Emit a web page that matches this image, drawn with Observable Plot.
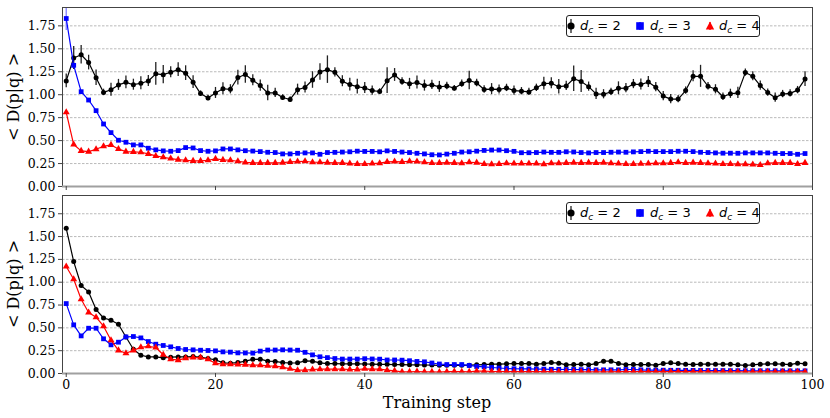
<!DOCTYPE html>
<html>
<head>
<meta charset="utf-8">
<script src="https://cdn.jsdelivr.net/npm/d3@7"></script>
<script src="https://cdn.jsdelivr.net/npm/@observablehq/plot@0.6"></script>
<style>
  body { margin: 0; background: #fff; }
  #wrap { position: relative; width: 830px; height: 418px; background: #fff; overflow: hidden; }
  .panel { position: absolute; left: 0; overflow: visible; }
  .ylab { position: absolute; font-family: "DejaVu Serif", serif; font-size: 16px; white-space: nowrap; transform: translate(-50%, -50%) rotate(-90deg); color: #000; }
  .xlab { position: absolute; font-family: "DejaVu Serif", serif; font-size: 16px; white-space: nowrap; transform: translateX(-50%); color: #000; }
  .legend { position: absolute; width: 192px; height: 20px; border: 1px solid #222; border-radius: 3px; background: #fff; font-family: "DejaVu Sans", sans-serif; font-size: 13px; color: #000; }
  .legend .mk { position: absolute; top: 2px; }
  .legend .lt { position: absolute; top: 1px; line-height: 18px; white-space: nowrap; }
  .legend i { font-style: italic; }
  .legend sub { font-size: 9px; vertical-align: -3px; font-style: italic; }
</style>
</head>
<body>
<div id="wrap"></div>
<script>
const steps = d3.range(0, 100);
const xTicks = [0, 20, 40, 60, 80, 100];
const yTicks = [0, 0.25, 0.5, 0.75, 1.0, 1.25, 1.5, 1.75];
const legendLabels = ["2", "3", "4"];

const topBlack = [1.15,1.40,1.435,1.35,1.185,1.025,1.054,1.107,1.135,1.109,1.125,1.149,1.227,1.218,1.245,1.273,1.235,1.137,1.012,0.964,1.019,1.065,1.059,1.187,1.22,
1.158,1.099,1.019,1.019,0.97,0.948,1.055,1.078,1.16,1.248,1.273,1.244,1.147,1.11,1.088,1.073,1.045,1.035,1.153,1.215,1.144,1.118,1.133,1.099,1.107,
1.085,1.095,1.071,1.12,1.155,1.128,1.057,1.061,1.057,1.074,1.045,1.038,1.03,1.075,1.12,1.125,1.087,1.096,1.174,1.145,1.088,1.009,1.005,1.031,1.07,
1.071,1.116,1.11,1.139,1.082,0.985,0.952,0.952,1.045,1.2,1.2,1.092,1.059,0.978,1.01,1.02,1.241,1.201,1.099,1.023,0.968,1.007,1.014,1.05,1.17];
const topBlackErr = [0.075,0.125,0.10,0.08,0.085,0.035,0.07,0.06,0.07,0.06,0.07,0.06,0.125,0.10,0.06,0.075,0.08,0.07,0.03,0.03,0.06,0.065,0.05,0.08,0.095,
0.06,0.06,0.085,0.05,0.03,0.03,0.06,0.06,0.09,0.09,0.15,0.05,0.06,0.07,0.08,0.06,0.05,0.03,0.14,0.07,0.04,0.06,0.07,0.06,0.05,
0.06,0.04,0.03,0.04,0.10,0.04,0.04,0.06,0.05,0.04,0.05,0.04,0.04,0.04,0.07,0.06,0.08,0.05,0.14,0.12,0.05,0.06,0.05,0.04,0.07,
0.05,0.05,0.06,0.06,0.05,0.05,0.05,0.04,0.04,0.06,0.12,0.04,0.05,0.04,0.05,0.06,0.04,0.05,0.05,0.04,0.05,0.04,0.04,0.04,0.08];
const topBlue = [1.83,1.32,1.033,0.942,0.826,0.681,0.587,0.504,0.482,0.453,0.453,0.417,0.399,0.388,0.384,0.391,0.424,0.42,0.391,0.384,0.388,0.409,0.409,0.399,0.39,
0.386,0.38,0.373,0.37,0.355,0.355,0.362,0.366,0.366,0.351,0.37,0.372,0.375,0.378,0.385,0.382,0.382,0.378,0.388,0.382,0.375,0.37,0.362,0.355,0.346,
0.344,0.353,0.362,0.375,0.378,0.385,0.393,0.397,0.397,0.39,0.383,0.368,0.368,0.37,0.375,0.372,0.372,0.378,0.376,0.37,0.366,0.37,0.37,0.373,0.375,
0.373,0.377,0.38,0.384,0.38,0.38,0.38,0.384,0.384,0.38,0.373,0.37,0.366,0.363,0.363,0.362,0.366,0.366,0.366,0.366,0.362,0.359,0.359,0.351,0.359];
const topBlueErr = [0.13];
const topRed = [0.808,0.457,0.388,0.38,0.406,0.438,0.453,0.409,0.38,0.377,0.373,0.355,0.333,0.319,0.304,0.293,0.286,0.279,0.279,0.286,0.301,0.29,0.286,0.275,0.262,
0.257,0.257,0.257,0.257,0.26,0.268,0.272,0.275,0.264,0.264,0.26,0.257,0.257,0.25,0.246,0.246,0.25,0.254,0.268,0.272,0.268,0.275,0.272,0.264,0.256,
0.257,0.26,0.257,0.254,0.264,0.26,0.246,0.243,0.246,0.254,0.25,0.25,0.25,0.25,0.243,0.254,0.254,0.257,0.26,0.257,0.26,0.257,0.26,0.254,0.25,
0.245,0.245,0.248,0.25,0.254,0.254,0.257,0.264,0.257,0.26,0.257,0.254,0.25,0.246,0.246,0.243,0.243,0.239,0.235,0.254,0.257,0.257,0.257,0.246,0.257];

const botBlack = [1.591,1.226,0.964,0.894,0.70,0.608,0.584,0.54,0.40,0.266,0.20,0.182,0.182,0.172,0.179,0.182,0.182,0.186,0.179,0.164,0.15,0.117,0.113,0.12,0.135,
0.155,0.157,0.135,0.132,0.12,0.115,0.117,0.139,0.135,0.117,0.109,0.109,0.106,0.106,0.106,0.104,0.102,0.1,0.1,0.098,0.098,0.095,0.095,0.093,0.092,
0.09,0.09,0.09,0.09,0.091,0.095,0.098,0.102,0.102,0.106,0.109,0.109,0.109,0.102,0.109,0.12,0.113,0.095,0.098,0.102,0.095,0.109,0.135,0.135,0.109,0.097,
0.098,0.098,0.098,0.091,0.109,0.117,0.109,0.102,0.098,0.102,0.102,0.102,0.102,0.102,0.095,0.088,0.095,0.102,0.106,0.106,0.102,0.098,0.113,0.106];
const botBlue = [0.766,0.533,0.412,0.496,0.496,0.38,0.314,0.343,0.401,0.405,0.39,0.35,0.321,0.307,0.292,0.274,0.263,0.259,0.255,0.252,0.248,0.237,0.234,0.226,0.225,
0.223,0.245,0.257,0.257,0.259,0.257,0.255,0.232,0.204,0.183,0.174,0.164,0.158,0.158,0.158,0.162,0.159,0.157,0.148,0.148,0.146,0.14,0.132,0.128,0.115,
0.104,0.098,0.098,0.098,0.088,0.077,0.073,0.066,0.06,0.055,0.052,0.05,0.05,0.048,0.048,0.046,0.046,0.044,0.044,0.042,0.042,0.04,0.04,0.04,0.04,0.044,
0.044,0.04,0.038,0.036,0.036,0.035,0.035,0.034,0.034,0.033,0.033,0.032,0.032,0.031,0.031,0.03,0.03,0.03,0.03,0.03,0.029,0.029,0.029,0.029];
const botRed = [1.172,1.033,0.814,0.668,0.617,0.518,0.365,0.253,0.222,0.253,0.287,0.298,0.285,0.205,0.157,0.146,0.168,0.175,0.175,0.155,0.112,0.102,0.102,0.099,0.097,
0.091,0.091,0.084,0.08,0.069,0.051,0.036,0.036,0.044,0.047,0.047,0.047,0.047,0.044,0.044,0.051,0.047,0.047,0.036,0.029,0.018,0.018,0.022,0.018,0.018,
0.015,0.02,0.022,0.02,0.018,0.025,0.025,0.022,0.022,0.022,0.02,0.02,0.02,0.02,0.02,0.02,0.018,0.018,0.018,0.018,0.018,0.018,0.018,0.018,0.02,0.02,
0.02,0.02,0.02,0.02,0.02,0.02,0.02,0.02,0.02,0.018,0.018,0.018,0.018,0.018,0.018,0.018,0.018,0.018,0.018,0.018,0.018,0.018,0.018,0.018];

const colors = ["#000000", "#0000ff", "#ff0000"];
const symbols = ["circle", "square", "triangle"];
const radii = [2.5, 2.7, 2.6];

function rows(vals, errs) {
  return steps.map((s, i) => ({ s, v: vals[i], e: errs && errs[i] != null ? errs[i] : 0 }));
}

function seriesMarks(vals, errs, k) {
  const data = rows(vals, errs);
  const marks = [];
  if (errs) {
    marks.push(Plot.ruleX(data.filter(d => d.e > 0), {
      x: "s", y1: d => d.v - d.e, y2: d => d.v + d.e,
      stroke: k === 0 ? "#222" : "#8080ff", strokeWidth: 1.3, clip: true
    }));
  }
  marks.push(Plot.line(data, { x: "s", y: "v", stroke: colors[k], strokeWidth: 1.2, clip: true }));
  marks.push(Plot.dot(data, { x: "s", y: "v", symbol: symbols[k], r: radii[k], fill: colors[k], stroke: "none", clip: true }));
  return marks;
}

function panel(series, opts) {
  return Plot.plot({
    width: 830,
    height: opts.height,
    marginLeft: 62,
    marginRight: 18,
    marginTop: opts.marginTop,
    marginBottom: opts.marginBottom,
    style: { fontFamily: "DejaVu Serif, serif", fontSize: "12.5px", color: "#000", background: "transparent", overflow: "visible" },
    x: { domain: [-0.5, 100] },
    y: { domain: [0, 1.95] },
    marks: [
      Plot.gridY(yTicks.filter(t => t > 0), { stroke: "#a8a8a8", strokeOpacity: 1, strokeWidth: 0.8, strokeDasharray: "2.5,1.5" }),
      ...series.flatMap((sr, k) => seriesMarks(sr.vals, sr.errs, k)),
      Plot.frame({ stroke: "#444", strokeWidth: 1 }),
      Plot.ruleY([0], { stroke: "#a0a0a0", strokeWidth: 2 }),
      Plot.axisY({ ticks: yTicks, tickSize: 4, tickPadding: 3, tickFormat: d3.format(".2f"), label: null, stroke: "#444" }),
      opts.xLabels
        ? Plot.axisX({ ticks: xTicks, tickSize: 4, tickPadding: 3, tickFormat: d => String(d), label: null, stroke: "#444" })
        : Plot.axisX({ ticks: xTicks, tickSize: 4, tickFormat: () => "", label: null, stroke: "#444" })
    ]
  });
}

const wrap = document.getElementById("wrap");

const botChart = panel([
  { vals: botBlack },
  { vals: botBlue },
  { vals: botRed }
], { height: 228, marginTop: 5, marginBottom: 45, xLabels: true });
botChart.classList.add("panel");
botChart.style.top = "190px";
wrap.appendChild(botChart);

const topChart = panel([
  { vals: topBlack, errs: topBlackErr },
  { vals: topBlue, errs: topBlueErr },
  { vals: topRed }
], { height: 190, marginTop: 7, marginBottom: 4, xLabels: false });
topChart.classList.add("panel");
topChart.style.top = "0px";
wrap.appendChild(topChart);

function addYLabel(cy) {
  const d = document.createElement("div");
  d.className = "ylab";
  d.style.left = "13px";
  d.style.top = cy + "px";
  d.textContent = "< D(p|q) >";
  wrap.appendChild(d);
}
addYLabel(96.5);
addYLabel(284);

const xl = document.createElement("div");
xl.className = "xlab";
xl.style.left = "437px";
xl.style.top = "393px";
xl.textContent = "Training step";
wrap.appendChild(xl);

function markerSvg(k) {
  const c = colors[k];
  let shape;
  if (k === 0) shape = `<circle cx="5" cy="8" r="3.6" fill="${c}"/>`;
  else if (k === 1) shape = `<rect x="1.2" y="4.2" width="7.6" height="7.6" fill="${c}"/>`;
  else shape = `<polygon points="5,3.6 9.2,11.6 0.8,11.6" fill="${c}"/>`;
  const lc = k === 0 ? "#222" : c;
  return `<svg width="10" height="16" viewBox="0 0 10 16"><line x1="5" x2="5" y1="${k===0?1:4}" y2="${k===0?15:12}" stroke="${lc}" stroke-width="1.3"/>${shape}</svg>`;
}

function addLegend(top) {
  const lg = document.createElement("div");
  lg.className = "legend";
  lg.style.left = "566px";
  lg.style.top = top + "px";
  const mkX = [-1, 68, 138];
  const txX = [13, 83, 152];
  legendLabels.forEach((lab, k) => {
    const m = document.createElement("div");
    m.className = "mk";
    m.style.left = mkX[k] + "px";
    m.innerHTML = markerSvg(k);
    lg.appendChild(m);
    const t = document.createElement("div");
    t.className = "lt";
    t.style.left = txX[k] + "px";
    t.innerHTML = `<i>d</i><sub>c</sub> = ${lab}`;
    lg.appendChild(t);
  });
  wrap.appendChild(lg);
}
addLegend(14.5);
addLegend(201.5);
</script>
</body>
</html>
